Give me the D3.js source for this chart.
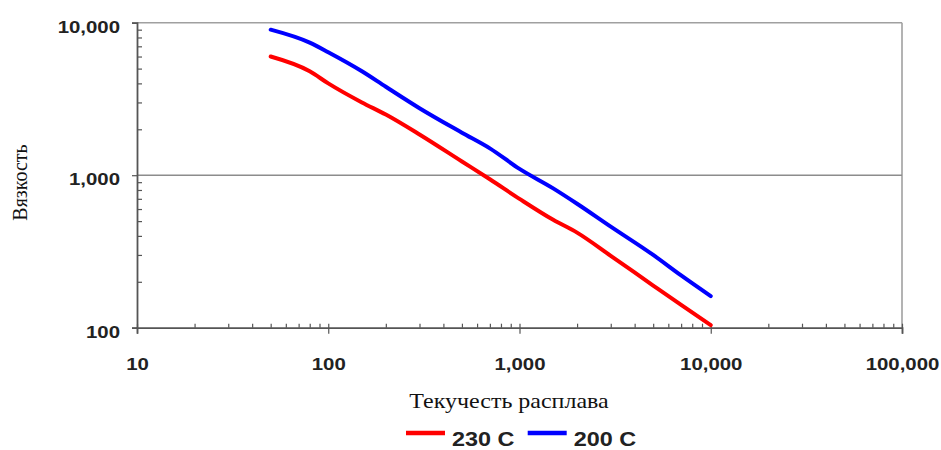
<!DOCTYPE html>
<html>
<head>
<meta charset="utf-8">
<script src="https://cdn.jsdelivr.net/npm/d3@7"></script>
<style>
  html, body { margin: 0; padding: 0; background: #fff; }
  svg { display: block; }
</style>
</head>
<body>
<svg id="chart" width="941" height="450"></svg>
<script>
// ---- data ----
const meltFlow = [50, 80, 100, 150, 200, 300, 500, 700, 1000, 1500, 2000, 3000, 5000, 7000, 10000];
const visc230 = [6000, 4800, 4000, 3000, 2500, 1850, 1230, 940, 700, 510, 420, 296, 189, 141, 104];
const visc200 = [9000, 7400, 6400, 4800, 3800, 2750, 1900, 1500, 1100, 820, 650, 460, 300, 220, 161];
const seriesNames = ["230 C", "200 C"];
const seriesColors = ["#ff0000", "#0000ff"];
const xMajorTicks = [10, 100, 1000, 10000, 100000];
const yMajorTicks = [100, 1000, 10000];
const xTitle = "Текучесть расплава";
const yTitle = "Вязкость";

(function () {
const svg = d3.select("#chart");
const pL = 137, pR = 902, pT = 22.7, pB = 327.7;
const SX = 1.2; // horizontal text stretch of the original

const x = d3.scaleLog().domain([10, 100000]).range([pL, pR]);
const y = d3.scaleLog().domain([100, 10000]).range([pB, pT]);

const minorOf = (majors) => {
  const out = [];
  for (let i = 0; i < majors.length - 1; i++)
    for (let k = 2; k <= 9; k++) out.push(majors[i] * k);
  return out;
};
const fmt = d3.format(",");

// frame: top and right borders, gridline at 1000
const frame = svg.append("g").attr("stroke", "#a0a0a0").attr("stroke-width", 1.6);
frame.append("line").attr("x1", pL).attr("x2", pR).attr("y1", pT).attr("y2", pT);
frame.append("line").attr("x1", pR).attr("x2", pR).attr("y1", pT).attr("y2", pB);
svg.append("g").selectAll("line").data([1000]).join("line")
  .attr("x1", pL).attr("x2", pR)
  .attr("y1", d => y(d)).attr("y2", d => y(d))
  .attr("stroke", "#8c8c8c").attr("stroke-width", 1.6);

// y axis
const yAx = svg.append("g").attr("transform", `translate(${pL},0)`)
  .call(d3.axisLeft(y).tickValues(yMajorTicks).tickSize(5).tickFormat(fmt));
svg.append("g").attr("transform", `translate(${pL},0)`)
  .call(d3.axisRight(y).tickValues(minorOf(yMajorTicks)).tickSize(5).tickFormat(""))
  .call(g => g.select(".domain").remove());

// x axis
const xAx = svg.append("g").attr("transform", `translate(0,${pB})`)
  .call(d3.axisBottom(x).tickValues(xMajorTicks).tickSize(6).tickFormat(fmt));
xAx.selectAll(".tick line").attr("y1", -4).attr("y2", 6);
svg.append("g").attr("transform", `translate(0,${pB})`)
  .call(d3.axisTop(x).tickValues(minorOf(xMajorTicks)).tickSize(4).tickFormat(""))
  .call(g => g.select(".domain").remove());

svg.selectAll(".domain").attr("stroke", "#555").attr("stroke-width", 1.8);
svg.selectAll(".tick line").attr("stroke", "#555").attr("stroke-width", 1.2);

const tickFont = g => g.selectAll(".tick text")
  .attr("font-family", "Liberation Sans, Arial, sans-serif")
  .attr("font-size", 17).attr("font-weight", "bold").attr("fill", "#222");
yAx.call(tickFont);
xAx.call(tickFont);
yAx.selectAll(".tick text").attr("dy", null).attr("y", 9.5)
  .attr("x", -17 / SX).attr("transform", `scale(${SX},1)`);
xAx.selectAll(".tick text").attr("dy", null).attr("y", 42)
  .attr("transform", `scale(${SX},1)`);

// lines
const line = d3.line().x(d => x(d[0])).y(d => y(d[1])).curve(d3.curveMonotoneX);
const series = [visc230, visc200];
svg.append("g").selectAll("path").data(series).join("path")
  .attr("d", vals => line(meltFlow.map((m, i) => [m, vals[i]])))
  .attr("fill", "none")
  .attr("stroke", (d, i) => seriesColors[i])
  .attr("stroke-width", 4)
  .attr("stroke-linecap", "round")
  .attr("stroke-linejoin", "round");

// titles
svg.append("text")
  .attr("transform", `translate(509,408) scale(${SX},1)`)
  .attr("text-anchor", "middle")
  .attr("font-family", "Liberation Serif, Times New Roman, serif")
  .attr("font-size", 20).attr("fill", "#111")
  .text(xTitle);
svg.append("text")
  .attr("transform", `translate(27,182.5) rotate(-90)`)
  .attr("text-anchor", "middle")
  .attr("font-family", "Liberation Serif, Times New Roman, serif")
  .attr("font-size", 20).attr("fill", "#111")
  .text(yTitle);

// legend
const legendX = [406, 527.7];
const lg = svg.append("g").selectAll("g").data(seriesNames).join("g")
  .attr("transform", (d, i) => `translate(${legendX[i]},433)`);
lg.append("line").attr("x1", 0).attr("x2", 39).attr("y1", 0).attr("y2", 0)
  .attr("stroke", (d, i) => seriesColors[i]).attr("stroke-width", 4.5);
lg.append("text")
  .attr("transform", `translate(46,12.5) scale(${SX},1)`)
  .attr("font-family", "Liberation Sans, Arial, sans-serif")
  .attr("font-size", 19.5).attr("font-weight", "bold").attr("fill", "#222")
  .text(d => d);
})();
</script>
</body>
</html>
